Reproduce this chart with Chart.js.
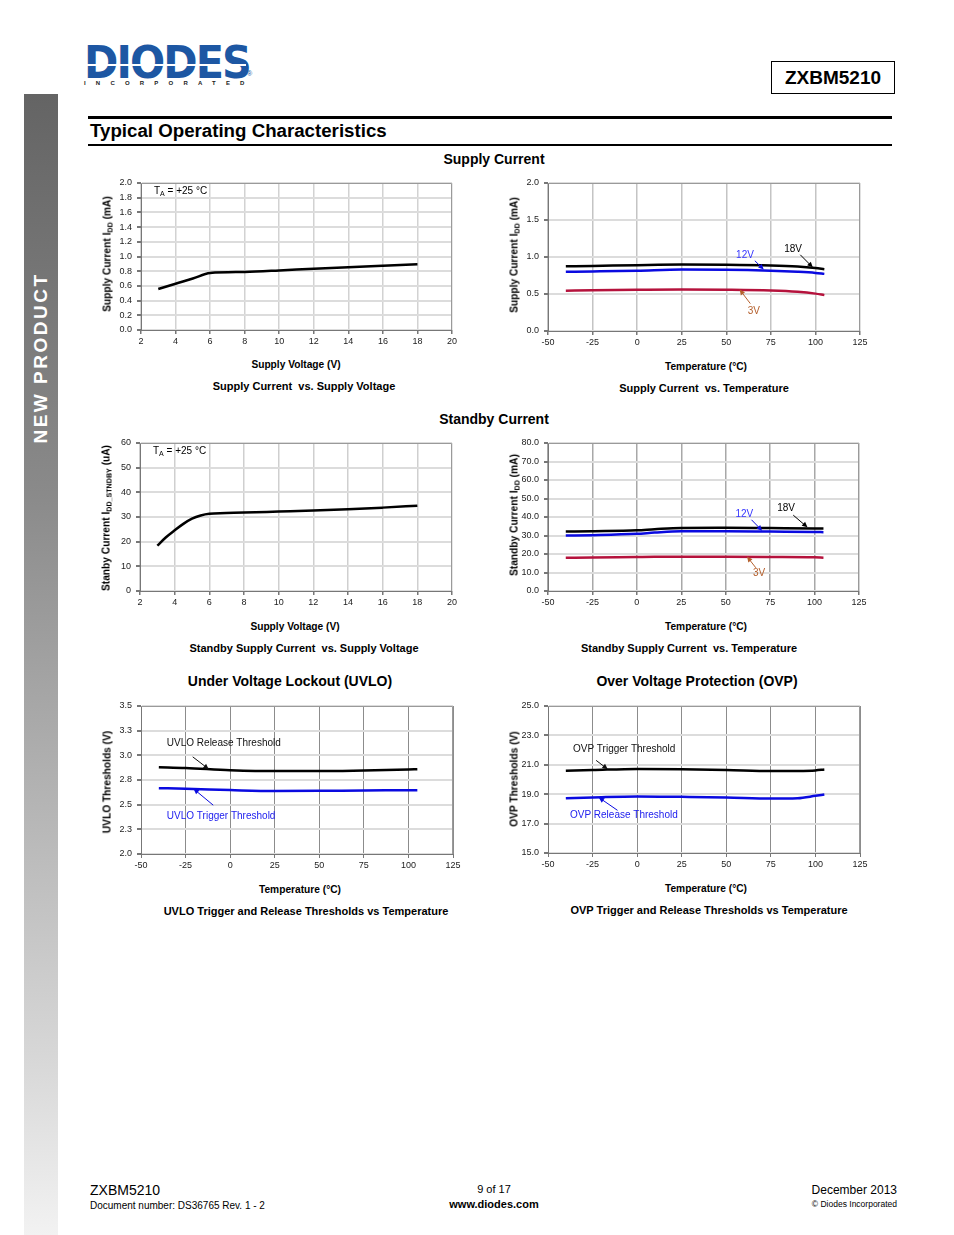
<!DOCTYPE html>
<html lang="en">
<head>
<meta charset="UTF-8">
<title>ZXBM5210 - Typical Operating Characteristics</title>
<script src="https://cdn.jsdelivr.net/npm/chart.js"></script>
<style>
    body { margin: 0; background: #fff; font-family: 'Liberation Sans', Arial, sans-serif; color: #000; }
    #page { position: relative; width: 954px; height: 1235px; overflow: hidden; }
    .abs { position: absolute; white-space: nowrap; }
    .box { position: absolute; }
    .ctr { transform: translate(-50%, -50%); }
    .rot { transform: translate(-50%, -50%) rotate(-90deg); }
    .axt { font-size: 10.2px; font-weight: bold; }
    .cap { font-size: 11px; font-weight: bold; }
    .sec { font-size: 14px; font-weight: bold; }
    sub { font-size: 70%; vertical-align: -2px; line-height: 0; }
    #sidebar { position: absolute; left: 24px; top: 94px; width: 34px; height: 1141px;
               background: linear-gradient(#646464, #8a8a8a 35%, #d8d8d8 85%, #f2f2f2); }
</style>
</head>
<body>
<div id="page">

    <div id="sidebar"></div>
    <div class="abs rot" style="left:41px;top:358px;color:#fff;font-size:19px;font-weight:bold;letter-spacing:2.5px;">NEW PRODUCT</div>

    <!-- logo -->
    <div class="abs" style="left:84px;top:37px;font-family:'DejaVu Sans';font-weight:bold;font-size:44px;color:#1d57a3;transform:scaleX(0.94);transform-origin:left top;letter-spacing:-2px;">DIODES</div>
    <div class="box" style="left:84px;top:64px;width:162px;height:2px;background:#fff;"></div>
    <div class="abs" style="left:247px;top:70px;font-size:7px;color:#1d57a3;">®</div>
    <div class="abs" style="left:84px;top:80px;font-size:6px;font-weight:bold;letter-spacing:10.2px;color:#222;">INCORPORATED</div>

    <div class="box" style="left:771px;top:61px;width:122px;height:31px;border:1.5px solid #000;"></div>
    <div class="abs ctr" style="left:833px;top:78px;font-size:19px;font-weight:bold;">ZXBM5210</div>

    <div class="box" style="left:88px;top:116px;width:804px;height:3px;background:#000;"></div>
    <div class="abs" style="left:90px;top:120px;font-size:18.7px;font-weight:bold;">Typical Operating Characteristics</div>
    <div class="box" style="left:88px;top:144px;width:804px;height:2px;background:#000;"></div>

    <div class="abs ctr sec" style="left:494px;top:159px;">Supply Current</div>
    <div class="abs ctr sec" style="left:494px;top:419px;">Standby Current</div>
    <div class="abs ctr sec" style="left:290px;top:681px;">Under Voltage Lockout (UVLO)</div>
    <div class="abs ctr sec" style="left:697px;top:681px;">Over Voltage Protection (OVP)</div>

    <!-- chart 1 -->
    <div class="box" id="w1"><canvas id="c1"></canvas></div>
    <div class="abs" style="left:154px;top:185px;font-size:10px;">T<sub>A</sub> = +25 °C</div>
    <div class="abs rot axt" style="left:107px;top:254px;">Supply Current I<sub>DD</sub> (mA)</div>
    <div class="abs ctr axt" style="left:296px;top:364px;">Supply Voltage (V)</div>
    <div class="abs ctr cap" style="left:304px;top:386px;">Supply Current&nbsp; vs. Supply Voltage</div>

    <!-- chart 2 -->
    <div class="box" id="w2"><canvas id="c2"></canvas></div>
    <div class="abs rot axt" style="left:514px;top:255px;">Supply Current I<sub>DD</sub> (mA)</div>
    <div class="abs ctr axt" style="left:706px;top:366px;">Temperature (°C)</div>
    <div class="abs ctr cap" style="left:704px;top:388px;">Supply Current&nbsp; vs. Temperature</div>

    <!-- chart 3 -->
    <div class="box" id="w3"><canvas id="c3"></canvas></div>
    <div class="abs" style="left:153px;top:445px;font-size:10px;">T<sub>A</sub> = +25 °C</div>
    <div class="abs rot axt" style="left:106px;top:518px;">Stanby Current I<sub>DD_STNDBY</sub> (uA)</div>
    <div class="abs ctr axt" style="left:295px;top:626px;">Supply Voltage (V)</div>
    <div class="abs ctr cap" style="left:304px;top:648px;">Standby Supply Current&nbsp; vs. Supply Voltage</div>

    <!-- chart 4 -->
    <div class="box" id="w4"><canvas id="c4"></canvas></div>
    <div class="abs rot axt" style="left:514px;top:515px;">Standby Current I<sub>DD</sub> (mA)</div>
    <div class="abs ctr axt" style="left:706px;top:626px;">Temperature (°C)</div>
    <div class="abs ctr cap" style="left:689px;top:648px;">Standby Supply Current&nbsp; vs. Temperature</div>

    <!-- chart 5 -->
    <div class="box" id="w5"><canvas id="c5"></canvas></div>
    <div class="abs rot axt" style="left:107px;top:782px;">UVLO Thresholds (V)</div>
    <div class="abs ctr axt" style="left:300px;top:889px;">Temperature (°C)</div>
    <div class="abs ctr cap" style="left:306px;top:911px;">UVLO Trigger and Release Thresholds vs Temperature</div>

    <!-- chart 6 -->
    <div class="box" id="w6"><canvas id="c6"></canvas></div>
    <div class="abs rot axt" style="left:514px;top:779px;">OVP Thresholds (V)</div>
    <div class="abs ctr axt" style="left:706px;top:888px;">Temperature (°C)</div>
    <div class="abs ctr cap" style="left:709px;top:910px;">OVP Trigger and Release Thresholds vs Temperature</div>

    <!-- footer -->
    <div class="abs" style="left:90px;top:1182px;font-size:14px;">ZXBM5210</div>
    <div class="abs" style="left:90px;top:1200px;font-size:10px;">Document number: DS36765 Rev. 1 - 2</div>
    <div class="abs ctr" style="left:494px;top:1189px;font-size:11px;">9 of 17</div>
    <div class="abs ctr" style="left:494px;top:1204px;font-size:11px;font-weight:bold;">www.diodes.com</div>
    <div class="abs" style="right:57px;top:1183px;font-size:12px;">December 2013</div>
    <div class="abs" style="right:57px;top:1199px;font-size:8.5px;">© Diodes Incorporated</div>
</div>

<script>
    // --- data ---

    // supply current vs supply voltage, TA = 25C
    const vddA = [3, 4, 5, 6, 8, 10, 12, 14, 16, 18];
    const iddA = [0.558, 0.63, 0.70, 0.775, 0.79, 0.81, 0.835, 0.855, 0.875, 0.895];

    // supply current vs temperature
    const tempB = [-40, -25, 0, 25, 50, 75, 90, 100, 105];
    const idd18V = [0.875, 0.88, 0.89, 0.897, 0.895, 0.885, 0.87, 0.85, 0.835];
    const idd12V = [0.80, 0.805, 0.815, 0.83, 0.828, 0.815, 0.80, 0.785, 0.772];
    const idd3V = [0.545, 0.55, 0.556, 0.56, 0.558, 0.548, 0.53, 0.505, 0.485];

    // standby current vs supply voltage, TA = 25C
    const vddC = [3, 3.5, 4, 4.5, 5, 5.5, 6, 8, 10, 12, 14, 16, 18];
    const stbyC = [18.4, 21.8, 24.6, 27.2, 29.3, 30.6, 31.3, 31.8, 32.2, 32.6, 33.1, 33.8, 34.6];

    // standby current vs temperature
    const tempD = [-40, -25, 0, 10, 25, 50, 75, 100, 105];
    const stby18V = [32.1, 32.3, 32.8, 33.4, 34.1, 34.2, 34.0, 33.8, 33.8];
    const stby12V = [30.0, 30.2, 30.9, 31.6, 32.3, 32.3, 32.1, 31.9, 31.8];
    const stby3V = [18.0, 18.1, 18.4, 18.5, 18.5, 18.5, 18.4, 18.2, 18.0];

    // UVLO thresholds vs temperature
    const tempE = [-40, -25, 0, 25, 50, 75, 100, 105];
    const uvloRelease = [2.880, 2.872, 2.850, 2.840, 2.840, 2.847, 2.857, 2.860];
    const uvloTrigger = [2.667, 2.662, 2.648, 2.638, 2.640, 2.644, 2.646, 2.647];

    // OVP thresholds vs temperature
    const tempF = [-40, -25, 0, 25, 50, 75, 90, 100, 105];
    const ovpTrigger = [20.59, 20.64, 20.72, 20.70, 20.65, 20.57, 20.58, 20.62, 20.68];
    const ovpRelease = [18.73, 18.78, 18.85, 18.82, 18.78, 18.71, 18.73, 18.89, 18.98];

    const BLACK = '#000000', BLUE = '#0a0ae0', RED = '#b5123c', BROWN = '#b5602d';

    Chart.defaults.font.family = "'Liberation Sans', Arial, sans-serif";
    Chart.defaults.font.size = 9;
    Chart.defaults.color = '#222';

    const pts = (xs, ys) => xs.map((x, i) => ({ x: x, y: ys[i] }));

    // frame round the plot + callout labels with arrows (in data units)
    const notesPlugin = {
        id: 'notes',
        beforeDatasetsDraw(chart) {
            const ctx = chart.ctx, a = chart.chartArea;
            ctx.save();
            ctx.strokeStyle = '#9a9a9a';
            ctx.lineWidth = 1;
            ctx.beginPath();
            ctx.moveTo(a.left, a.top + 0.5);
            ctx.lineTo(a.right - 0.5, a.top + 0.5);
            ctx.lineTo(a.right - 0.5, a.bottom);
            ctx.stroke();
            ctx.restore();
        },
        afterDatasetsDraw(chart, args, opts) {
            const ctx = chart.ctx, sx = chart.scales.x, sy = chart.scales.y;
            (opts.items || []).forEach(n => {
                ctx.save();
                if (n.arrow) {
                    const x1 = sx.getPixelForValue(n.arrow[0]), y1 = sy.getPixelForValue(n.arrow[1]);
                    const x2 = sx.getPixelForValue(n.arrow[2]), y2 = sy.getPixelForValue(n.arrow[3]);
                    const ang = Math.atan2(y2 - y1, x2 - x1);
                    ctx.strokeStyle = n.arrowColor || n.color;
                    ctx.fillStyle = n.arrowColor || n.color;
                    ctx.lineWidth = 1;
                    ctx.beginPath();
                    ctx.moveTo(x1, y1);
                    ctx.lineTo(x2 - 4 * Math.cos(ang), y2 - 4 * Math.sin(ang));
                    ctx.stroke();
                    ctx.beginPath();
                    ctx.moveTo(x2, y2);
                    ctx.lineTo(x2 - 6 * Math.cos(ang - 0.45), y2 - 6 * Math.sin(ang - 0.45));
                    ctx.lineTo(x2 - 6 * Math.cos(ang + 0.45), y2 - 6 * Math.sin(ang + 0.45));
                    ctx.closePath();
                    ctx.fill();
                }
                ctx.fillStyle = n.color;
                ctx.font = "10px 'Liberation Sans', Arial, sans-serif";
                ctx.textAlign = n.align || 'center';
                ctx.textBaseline = 'middle';
                ctx.fillText(n.text, sx.getPixelForValue(n.x), sy.getPixelForValue(n.y));
                ctx.restore();
            });
        }
    };

    // plot: left/right/top/bottom of the plot area on the page
    function makeChart(num, plot, datasets, xs, ys, notes, vGrid) {
        const yw = 40, padTop = 8, padRight = 22, xh = 20;
        const wrap = document.getElementById('w' + num);
        wrap.style.left = (plot[0] - yw) + 'px';
        wrap.style.top = (plot[2] - padTop) + 'px';
        wrap.style.width = (yw + plot[1] - plot[0] + padRight) + 'px';
        wrap.style.height = (padTop + plot[3] - plot[2] + xh) + 'px';

        new Chart(document.getElementById('c' + num), {
            type: 'line',
            data: {
                datasets: datasets.map(d => ({
                    data: d.data,
                    borderColor: d.color,
                    borderWidth: 2.5,
                    pointRadius: 0,
                    cubicInterpolationMode: 'monotone',
                    fill: false
                }))
            },
            options: {
                responsive: true,
                maintainAspectRatio: false,
                animation: false,
                layout: { padding: { top: padTop, right: padRight, left: 0, bottom: 0 } },
                plugins: {
                    legend: { display: false },
                    tooltip: { enabled: false },
                    notes: { items: notes }
                },
                scales: {
                    x: {
                        type: 'linear',
                        min: xs.min, max: xs.max,
                        grid: { color: vGrid.color, lineWidth: vGrid.width, tickLength: 4, tickColor: '#777' },
                        border: { color: '#777', width: 1 },
                        ticks: { stepSize: xs.step, padding: 2, maxRotation: 0, autoSkip: false },
                        afterFit: s => { s.height = xh; s.paddingLeft = 0; s.paddingRight = 0; }
                    },
                    y: {
                        min: ys.min, max: ys.max,
                        grid: { color: '#dcdcdc', lineWidth: 2, tickLength: 4, tickColor: '#777' },
                        border: { color: '#777', width: 1 },
                        ticks: {
                            stepSize: ys.step, padding: 5, autoSkip: false,
                            callback: v => v.toFixed(ys.dec)
                        },
                        afterFit: s => { s.width = yw; s.paddingTop = 0; s.paddingBottom = 0; }
                    }
                }
            },
            plugins: [notesPlugin]
        });
    }

    const voltAxis = { min: 2, max: 20, step: 2 };
    const tempAxis = { min: -50, max: 125, step: 25 };

    makeChart(1, [141, 452, 183, 330],
        [{ data: pts(vddA, iddA), color: BLACK }],
        voltAxis, { min: 0, max: 2, step: 0.2, dec: 1 }, [],
        { color: '#d2d2d2', width: 1.5 });

    makeChart(2, [548, 860, 183, 331],
        [{ data: pts(tempB, idd18V), color: BLACK },
         { data: pts(tempB, idd12V), color: BLUE },
         { data: pts(tempB, idd3V), color: RED }],
        tempAxis, { min: 0, max: 2, step: 0.5, dec: 1 },
        [{ text: '12V', x: 60.5, y: 1.03, color: '#3535ff', arrowColor: BLUE, arrow: [66, 0.95, 71, 0.83] },
         { text: '18V', x: 87.5, y: 1.11, color: BLACK, arrow: [91.5, 1.03, 98.5, 0.86] },
         { text: '3V', x: 65.5, y: 0.27, color: BROWN, arrow: [63.5, 0.37, 57.5, 0.56] }],
        { color: '#c4c4c4', width: 1.5 });

    makeChart(3, [140, 452, 443, 591],
        [{ data: pts(vddC, stbyC), color: BLACK }],
        voltAxis, { min: 0, max: 60, step: 10, dec: 0 }, [],
        { color: '#cfcfcf', width: 1.5 });

    makeChart(4, [548, 859, 443, 591],
        [{ data: pts(tempD, stby18V), color: BLACK },
         { data: pts(tempD, stby12V), color: BLUE },
         { data: pts(tempD, stby3V), color: RED }],
        tempAxis, { min: 0, max: 80, step: 10, dec: 1 },
        [{ text: '12V', x: 60.5, y: 41.5, color: '#3535ff', arrowColor: BLUE, arrow: [64.5, 38.5, 70.5, 32.6] },
         { text: '18V', x: 84, y: 44.5, color: BLACK, arrow: [88, 41, 96, 34.4] },
         { text: '3V', x: 68.8, y: 9.4, color: BROWN, arrow: [67, 12.5, 62, 18.6] }],
        { color: '#a8a8a8', width: 1.5 });

    makeChart(5, [141, 453, 706, 854],
        [{ data: pts(tempE, uvloRelease), color: BLACK },
         { data: pts(tempE, uvloTrigger), color: BLUE }],
        tempAxis, { min: 2, max: 3.5, step: 0.25, dec: 1 },
        [{ text: 'UVLO Release Threshold', x: -35.5, y: 3.125, color: '#111', align: 'left', arrow: [-21, 2.985, -12, 2.86] },
         { text: 'UVLO Trigger Threshold', x: -35.5, y: 2.385, color: '#2020ee', align: 'left', arrowColor: BLUE, arrow: [-9.5, 2.495, -20.5, 2.66] }],
        { color: '#8c8c8c', width: 1 });

    makeChart(6, [548, 860, 706, 853],
        [{ data: pts(tempF, ovpTrigger), color: BLACK },
         { data: pts(tempF, ovpRelease), color: BLUE }],
        tempAxis, { min: 15, max: 25, step: 2, dec: 1 },
        [{ text: 'OVP Trigger Threshold', x: -36, y: 22.07, color: '#111', align: 'left', arrow: [-23, 21.3, -16.5, 20.7] },
         { text: 'OVP Release Threshold', x: -37.7, y: 17.6, color: '#2020ee', align: 'left', arrowColor: BLUE, arrow: [-11, 17.9, -21.5, 18.78] }],
        { color: '#8c8c8c', width: 1 });
</script>
</body>
</html>
